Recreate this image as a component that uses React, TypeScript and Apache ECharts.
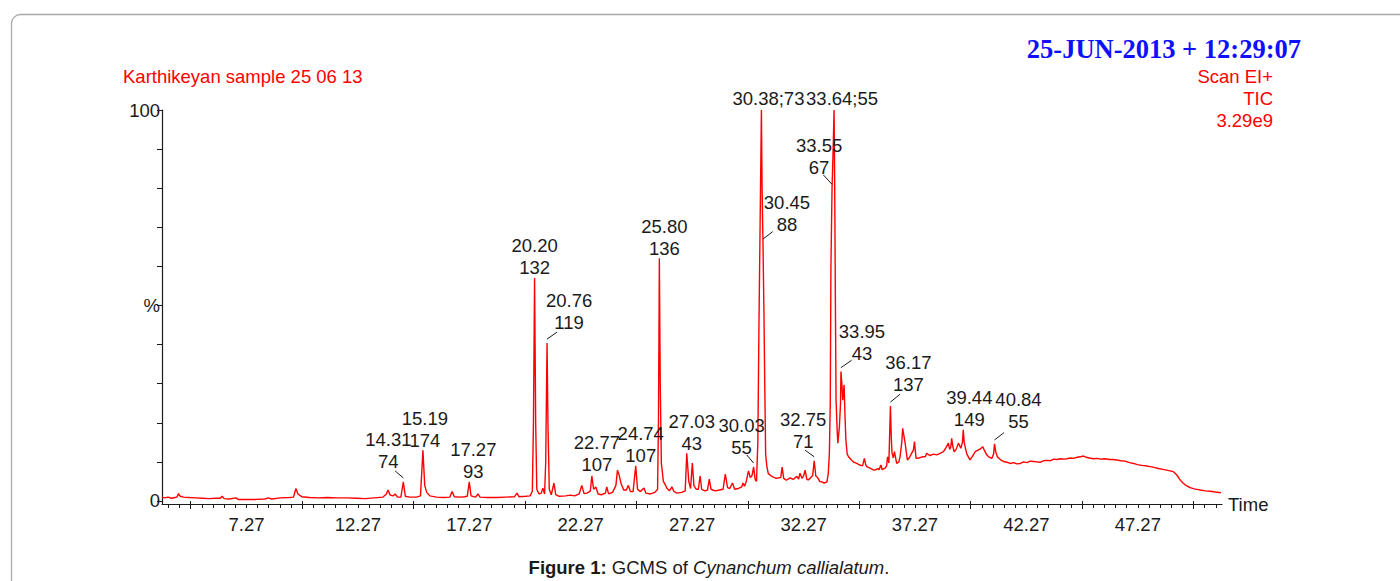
import React, { useEffect, useRef } from "react";
import * as echarts from "echarts";

const FONT = '"Liberation Sans", Arial, Helvetica, sans-serif';
const INK = "#1a1a1a";
const RED = "#ff0000";
const FS = 18.5;

// ---- axis tick labels (minutes) ----
const timeTickLabels = [7.27, 12.27, 17.27, 22.27, 27.27, 32.27, 37.27, 42.27, 47.27];
const timeLongTicks = [4.77, 9.77, 14.77, 19.77, 24.77, 29.77, 34.77, 39.77, 44.77, 49.77];
const timeMinorTicks: number[] = [];
for (let k = 0; k <= 94; k++) timeMinorTicks.push(+(3.77 + k * 0.5).toFixed(2));
const percentTicks = [0, 10, 20, 30, 40, 50, 60, 70, 80, 90, 100];
const percentLabels = [0, 50, 100];

// ---- TIC trace: [retention time (min), relative intensity (%)] ----
const traceEarly: [number, number][] = [
  [3.48, 1.0], [3.6, 0.8], [3.75, 1.0], [3.9, 0.7], [4.05, 0.9], [4.15, 1.0], [4.22, 1.9], [4.3, 1.2],
  [4.45, 1.0], [4.7, 0.9], [5.0, 0.8], [5.3, 0.7], [5.6, 0.6], [5.9, 0.7], [6.1, 0.7], [6.18, 1.2],
  [6.27, 0.6], [6.5, 0.5], [6.8, 0.8], [6.9, 0.4], [7.3, 0.4], [7.7, 0.4], [8.1, 0.5], [8.25, 0.8],
  [8.4, 0.5], [8.8, 0.8], [9.2, 0.9], [9.38, 1.0], [9.49, 3.2], [9.58, 1.8], [9.75, 1.1], [10.1, 0.9],
  [10.5, 0.8], [10.9, 0.9], [11.3, 0.8], [11.8, 0.8], [12.2, 0.7], [12.6, 0.6], [13.0, 0.8], [13.4, 1.0],
  [13.55, 1.8], [13.62, 2.8], [13.72, 1.5], [13.85, 1.3], [13.94, 1.8], [14.05, 1.0], [14.2, 1.0],
  [14.31, 4.9], [14.4, 1.2], [14.6, 1.0], [14.9, 1.0], [15.08, 1.3], [15.19, 13.0], [15.27, 4.0],
  [15.36, 2.2], [15.5, 1.3], [15.8, 1.0], [16.1, 0.9], [16.4, 1.0], [16.5, 2.4], [16.6, 1.1],
  [16.9, 1.0], [17.05, 1.1], [17.18, 1.2], [17.27, 4.9], [17.35, 1.3], [17.55, 1.0], [17.66, 1.8],
  [17.75, 1.0], [18.1, 0.9], [18.5, 0.9], [18.9, 1.0], [19.3, 1.1], [19.41, 2.0], [19.5, 1.1],
  [19.8, 1.2], [20.0, 1.3], [20.1, 2.5], [20.15, 20], [20.2, 57], [20.25, 20], [20.3, 3], [20.4, 1.8],
  [20.5, 2.0], [20.57, 3.3], [20.65, 1.8], [20.7, 10], [20.76, 40.4], [20.8, 20], [20.86, 3],
  [20.95, 1.6], [21.07, 4.6], [21.15, 1.6], [21.3, 1.2], [21.6, 1.3], [21.8, 1.5], [22.0, 1.3],
];
const traceMiddle: [number, number][] = [
  [22.2, 1.8], [22.32, 4.0], [22.42, 1.9], [22.55, 2.0], [22.7, 2.5], [22.77, 6.4], [22.85, 3.0],
  [22.95, 3.6], [23.05, 1.8], [23.2, 1.6], [23.38, 2.0], [23.44, 3.6], [23.52, 1.8], [23.7, 2.2],
  [23.85, 4.0], [23.92, 7.9], [24.0, 6.5], [24.08, 4.5], [24.2, 2.8], [24.32, 2.8], [24.41, 4.0],
  [24.5, 2.4], [24.62, 2.4], [24.74, 9.0], [24.82, 3.0], [24.95, 2.4], [25.11, 3.3], [25.2, 2.0],
  [25.4, 1.8], [25.6, 2.2], [25.72, 3.0], [25.76, 20], [25.8, 62.1], [25.84, 30], [25.89, 9.7],
  [25.98, 5.0], [26.08, 4.0], [26.13, 3.3], [26.25, 2.6], [26.36, 3.6], [26.45, 2.5], [26.58, 2.0],
  [26.8, 2.2], [26.96, 2.6], [27.03, 12.2], [27.12, 5.0], [27.2, 3.2], [27.28, 9.7], [27.35, 4.0],
  [27.45, 3.0], [27.55, 3.0], [27.63, 6.4], [27.7, 3.0], [27.85, 2.6], [27.96, 2.8], [28.04, 5.6],
  [28.12, 3.0], [28.3, 2.6], [28.5, 2.8], [28.66, 3.0], [28.76, 6.9], [28.86, 3.4], [28.96, 3.2],
  [29.08, 4.6], [29.18, 3.0], [29.35, 3.2], [29.5, 3.6], [29.55, 4.6], [29.62, 3.8], [29.7, 5.0],
  [29.8, 7.7], [29.88, 6.0], [29.96, 6.5], [30.03, 8.7], [30.1, 5.5], [30.16, 5.0], [30.22, 15],
  [30.27, 45], [30.32, 70], [30.38, 100], [30.41, 80], [30.45, 66], [30.49, 50], [30.53, 30],
  [30.57, 12], [30.62, 9], [30.69, 7.0], [30.8, 6.5], [30.92, 6.1], [31.05, 5.8], [31.14, 5.9],
  [31.25, 6.0], [31.31, 8.7], [31.38, 5.8], [31.5, 5.3], [31.67, 5.9], [31.8, 5.5], [31.97, 6.3],
  [32.05, 5.6], [32.11, 7.1], [32.2, 5.8], [32.28, 6.5], [32.34, 7.9], [32.42, 5.5], [32.49, 5.4],
  [32.6, 6.0], [32.68, 6.5], [32.75, 10.3], [32.82, 6.4], [32.9, 6.0], [33.0, 5.0], [33.09, 4.9],
  [33.2, 4.6], [33.32, 4.9], [33.38, 7], [33.43, 12.3], [33.47, 25], [33.5, 60], [33.55, 80],
  [33.6, 90], [33.64, 100], [33.67, 80], [33.7, 51], [33.73, 25.8], [33.78, 18], [33.81, 14.8],
  [33.88, 19], [33.93, 25], [33.95, 33.1], [33.99, 30], [34.03, 25.8], [34.09, 29.7], [34.13, 22],
  [34.17, 15.6], [34.23, 12], [34.29, 11.3], [34.4, 10.6], [34.5, 10.0], [34.66, 9.6], [34.8, 9.2],
  [34.92, 9.0], [35.0, 10.9], [35.06, 9.3], [35.11, 8.8], [35.25, 8.4], [35.38, 8.0], [35.48, 7.9],
  [35.6, 8.3], [35.66, 8.0], [35.74, 9.2], [35.8, 8.0], [35.93, 8.4], [36.0, 9.0], [36.04, 11.3],
  [36.1, 9.7], [36.17, 24.3], [36.21, 16], [36.24, 12.3], [36.3, 11.0], [36.35, 12.6], [36.45, 9.6],
  [36.55, 10.0], [36.6, 11.3], [36.68, 15], [36.72, 18.6], [36.78, 16.5], [36.83, 14.8],
  [36.93, 10.5], [37.03, 11.2], [37.13, 12.3], [37.2, 13], [37.25, 15.2], [37.32, 10.9],
];
const traceLate: [number, number][] = [
  [37.45, 11.0], [37.6, 11.3], [37.73, 11.3], [37.8, 12.2], [37.95, 11.6], [38.1, 12.0], [38.25, 11.8],
  [38.4, 12.2], [38.55, 12.6], [38.65, 13.5], [38.77, 14.8], [38.83, 13.2], [38.88, 13.9],
  [38.92, 16.0], [38.97, 14.0], [39.03, 12.6], [39.12, 13.2], [39.22, 14.8], [39.33, 13.5],
  [39.4, 15], [39.44, 18.2], [39.48, 15], [39.52, 13.9], [39.6, 12.0], [39.74, 10.5], [39.85, 11.4],
  [39.97, 12.6], [40.1, 13.0], [40.2, 13.3], [40.31, 13.9], [40.4, 12.8], [40.49, 11.8], [40.6, 11.2],
  [40.72, 10.9], [40.8, 12.0], [40.84, 14.6], [40.9, 12.5], [40.97, 11.3], [41.1, 10.6], [41.24, 10.1],
  [41.4, 9.9], [41.55, 9.6], [41.7, 9.8], [41.84, 9.5], [42.0, 9.6], [42.15, 10.0], [42.3, 9.8],
  [42.44, 10.2], [42.6, 10.1], [42.75, 10.0], [42.89, 9.9], [43.05, 10.3], [43.2, 10.4], [43.35, 10.3],
  [43.49, 10.7], [43.65, 10.6], [43.8, 10.8], [43.95, 10.7], [44.09, 10.8], [44.25, 11.0], [44.4, 10.9],
  [44.55, 11.2], [44.7, 11.3], [44.83, 11.5], [44.95, 11.2], [45.1, 11.0], [45.28, 10.8], [45.45, 10.9],
  [45.6, 10.7], [45.8, 10.8], [46.0, 10.6], [46.15, 10.6], [46.33, 10.5], [46.5, 10.3], [46.7, 10.2],
  [46.9, 9.8], [47.08, 9.6], [47.25, 9.3], [47.45, 9.1], [47.62, 9.0], [47.82, 8.8], [48.0, 8.6],
  [48.2, 8.3], [48.4, 8.1], [48.57, 7.9], [48.72, 7.7], [48.87, 7.5], [49.0, 6.8], [49.1, 6.0],
  [49.17, 5.4], [49.3, 4.6], [49.45, 3.9], [49.62, 3.4], [49.8, 3.1], [50.0, 2.9], [50.07, 2.8],
  [50.3, 2.6], [50.52, 2.5], [50.75, 2.3], [51.0, 2.1],
];

// ---- peak annotations ----
const peakTimes = ["14.31", "15.19", "17.27", "20.20", "20.76", "22.77", "24.74", "25.80", "27.03", "30.03",
  "30.38", "33.64", "30.45", "33.55", "32.75", "33.95", "36.17", "39.44", "40.84"];
const peakMasses = ["74", "174", "93", "132", "119", "107", "107", "136", "43", "55",
  "73", "55", "88", "67", "71", "43", "137", "149", "55"];
const peakIntensities = [4.9, 13, 4.9, 57, 40.4, 6.4, 9.0, 62.1, 12.2, 8.7,
  100, 100, 66, 80, 10.3, 33.1, 24.3, 18.2, 14.6];
const singleLinePeaks = ["30.38", "33.64"];

// layout of the annotation texts (pixel offsets from the peak) and leader-line ends (data coords)
const labelOffsets: [number, number][] = [
  [-15, -31], [2, -21], [4, -21], [0, -22], [22, -32], [5, -22], [5, -21], [5, -21], [5, -21], [-12, -30],
  [7, -12], [8, -12], [24, -29], [-13, -32], [-11, -30], [21, -29], [18, -32], [6, -21], [24, -33],
];
const leaderEnds: ([number, number] | null)[] = [
  [13.94, 7.7], null, null, null, [21.21, 43.2], null, null, null, null, [29.72, 11.8],
  null, null, [30.89, 68.9], [33.16, 83.4], [32.34, 13], [34.43, 36], [36.6, 27.3], null, [41.27, 17.5],
];

const X_MIN = 3.48;
const X_MAX = 51.05;

export default function App() {
  const ref = useRef<HTMLDivElement>(null);
  useEffect(() => {
    if (!ref.current) return;
    const chart = echarts.init(ref.current, undefined, { renderer: "svg" });
    const trace = [...traceEarly, ...traceMiddle, ...traceLate];

    const markPoints = peakTimes.map((t, i) => {
      const single = singleLinePeaks.includes(t);
      return {
        coord: [parseFloat(t), peakIntensities[i]],
        label: {
          show: true,
          position: "inside",
          offset: labelOffsets[i],
          formatter: single ? `${t};${peakMasses[i]}` : `${t}\n${peakMasses[i]}`,
          color: INK,
          fontSize: FS,
          lineHeight: 22,
          fontFamily: FONT,
          align: "center",
          verticalAlign: "middle",
        },
      };
    });
    const leaders = peakTimes
      .map((t, i) => (leaderEnds[i] ? [{ coord: [parseFloat(t), peakIntensities[i] + 1] }, { coord: leaderEnds[i] }] : null))
      .filter(Boolean);

    chart.setOption({
      animation: false,
      grid: { left: 162, right: 178, top: 110, bottom: 77, containLabel: false },
      xAxis: [
        {
          type: "value",
          min: X_MIN,
          max: X_MAX,
          position: "bottom",
          axisLine: { show: true, onZero: false, lineStyle: { color: INK, width: 1.2 } },
          axisTick: { show: true, customValues: timeMinorTicks, length: 4, lineStyle: { color: INK, width: 1 } },
          axisLabel: {
            show: true,
            customValues: timeTickLabels,
            formatter: (v: number) => v.toFixed(2),
            color: INK,
            fontSize: FS,
            fontFamily: FONT,
            margin: 11,
          },
          splitLine: { show: false },
          name: "Time",
          nameLocation: "end",
          nameGap: 6,
          nameTextStyle: { color: INK, fontSize: FS, fontFamily: FONT },
        },
        {
          type: "value",
          min: X_MIN,
          max: X_MAX,
          position: "bottom",
          offset: 0,
          axisLine: { show: false },
          axisTick: { show: true, customValues: timeLongTicks, length: 8, lineStyle: { color: INK, width: 1 } },
          axisLabel: { show: false },
          splitLine: { show: false },
        },
      ],
      yAxis: {
        type: "value",
        min: -0.77,
        max: 100,
        axisLine: { show: true, onZero: false, lineStyle: { color: INK, width: 1.2 } },
        axisTick: { show: true, customValues: percentTicks, length: 5, lineStyle: { color: INK, width: 1 } },
        axisLabel: {
          show: true,
          customValues: percentLabels,
          formatter: (v: number) => (v === 50 ? "%" : String(v)),
          color: INK,
          fontSize: FS,
          fontFamily: FONT,
          margin: 2,
        },
        splitLine: { show: false },
      },
      series: [
        {
          type: "line",
          xAxisIndex: 0,
          data: trace,
          symbol: "none",
          showSymbol: false,
          lineStyle: { color: RED, width: 1.4 },
          itemStyle: { color: RED },
          markPoint: {
            symbol: "circle",
            symbolSize: 1,
            silent: true,
            itemStyle: { color: "rgba(0,0,0,0)" },
            data: markPoints,
          },
          markLine: {
            symbol: ["none", "none"],
            silent: true,
            label: { show: false },
            lineStyle: { color: INK, width: 1, type: "solid" },
            data: leaders,
          },
        },
      ],
      graphic: [
        {
          type: "rect",
          silent: true,
          shape: { x: 11.5, y: 14.5, width: 1420, height: 620, r: 9 },
          style: { fill: "none", stroke: "#a9a9a9", lineWidth: 1.3 },
        },
        {
          type: "text",
          x: 123,
          y: 76,
          style: { text: "Karthikeyan sample 25 06 13", fill: RED, fontSize: FS, fontFamily: FONT, align: "left", verticalAlign: "middle" },
        },
        {
          type: "text",
          x: 1301,
          y: 49,
          style: {
            text: "25-JUN-2013 + 12:29:07",
            fill: "#0f0fff",
            fontSize: 26.5,
            fontWeight: "bold",
            fontFamily: '"Liberation Serif", "Times New Roman", serif',
            align: "right",
            verticalAlign: "middle",
          },
        },
        {
          type: "text",
          x: 1273,
          y: 65,
          style: {
            text: "Scan EI+\nTIC\n3.29e9",
            fill: RED,
            fontSize: FS,
            lineHeight: 22,
            fontFamily: FONT,
            align: "right",
            verticalAlign: "top",
          },
        },
        {
          type: "text",
          x: 709,
          y: 567,
          style: {
            text: "{b|Figure 1:} GCMS of {i|Cynanchum callialatum}.",
            fill: INK,
            fontSize: FS,
            fontFamily: FONT,
            align: "center",
            verticalAlign: "middle",
            rich: {
              b: { fontWeight: "bold", fontSize: FS, fontFamily: FONT, fill: INK },
              i: { fontStyle: "italic", fontSize: FS, fontFamily: FONT, fill: INK },
            },
          },
        },
      ],
    });
    return () => chart.dispose();
  }, []);
  return <div ref={ref} style={{ position: "fixed", left: 0, top: 0, width: 1400, height: 581, background: "#fff" }} />;
}
